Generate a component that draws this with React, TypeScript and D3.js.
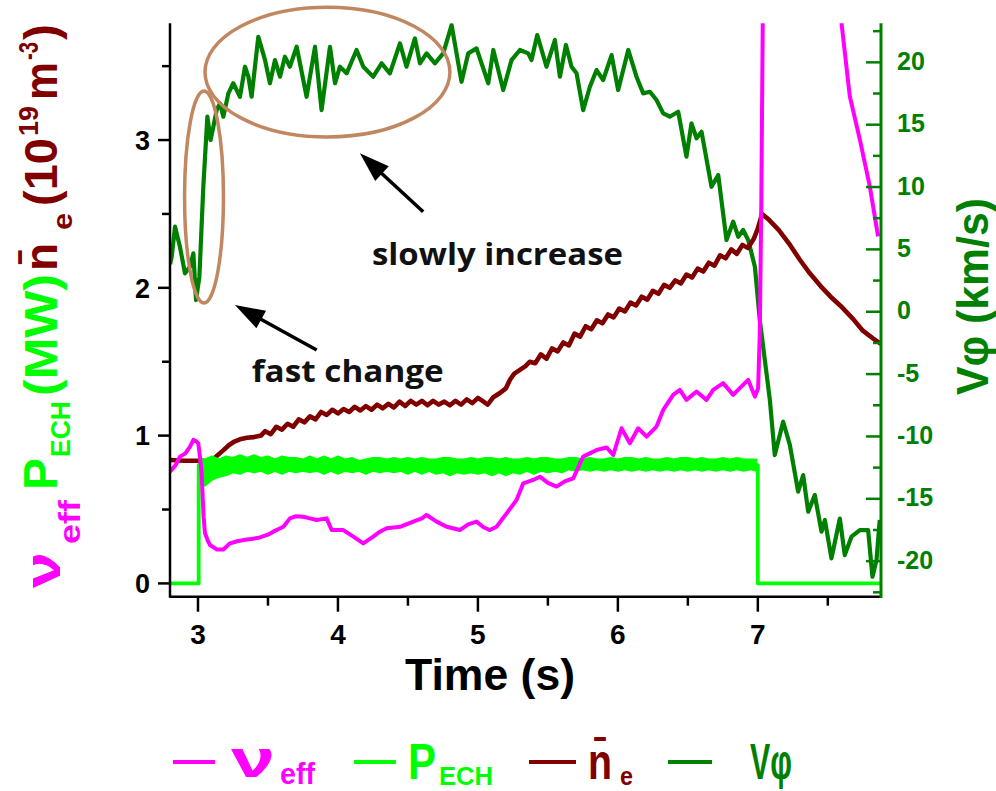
import React from "react";
import * as d3 from "d3";

// ---------- axis ticks ----------
const timeTicks = [3, 4, 5, 6, 7];
const timeMinorTicks = [3.5, 4.5, 5.5, 6.5, 7.5];
const leftTicks = [0, 1, 2, 3];
const leftMinorTicks = [0.5, 1.5, 2.5, 3.5];
const rightTicks = [-20, -15, -10, -5, 0, 5, 10, 15, 20];
const rightMinorTicks = [-22.5, -17.5, -12.5, -7.5, -2.5, 2.5, 7.5, 12.5, 17.5, 22.5];

// ---------- series (time s, value) ----------
// nu_eff (left axis)
const nuEff: [number, number | null][] = [
  [2.8, 0.756], [2.84, 0.8], [2.871, 0.858], [2.91, 0.88], [2.943, 0.925], [2.967, 0.971], [2.99, 0.96],
  [3.002, 0.948], [3.015, 0.85], [3.026, 0.745], [3.04, 0.45], [3.05, 0.339], [3.07, 0.29], [3.086, 0.26],
  [3.133, 0.23], [3.181, 0.23], [3.229, 0.271], [3.28, 0.285], [3.324, 0.293], [3.38, 0.3], [3.443, 0.311],
  [3.5, 0.33], [3.538, 0.35], [3.61, 0.383], [3.657, 0.44], [3.7, 0.455], [3.752, 0.451], [3.8, 0.44],
  [3.848, 0.429], [3.919, 0.44], [3.955, 0.361], [4.038, 0.361], [4.11, 0.316], [4.181, 0.271],
  [4.252, 0.316], [4.3, 0.35], [4.348, 0.373], [4.443, 0.383], [4.538, 0.418], [4.6, 0.44], [4.633, 0.463],
  [4.705, 0.418], [4.776, 0.383], [4.871, 0.361], [4.93, 0.4], [4.99, 0.418], [5.04, 0.38], [5.086, 0.361],
  [5.133, 0.383], [5.205, 0.474], [5.276, 0.564], [5.324, 0.677], [5.395, 0.7], [5.443, 0.722], [5.5, 0.68],
  [5.562, 0.655], [5.62, 0.69], [5.681, 0.711], [5.752, 0.858], [5.8, 0.88], [5.848, 0.903], [5.919, 0.92],
  [5.967, 0.869], [6.026, 1.05], [6.086, 0.948], [6.145, 1.05], [6.205, 0.993], [6.276, 1.061],
  [6.324, 1.174], [6.395, 1.276], [6.443, 1.31], [6.49, 1.242], [6.562, 1.298], [6.633, 1.242],
  [6.681, 1.31], [6.752, 1.355], [6.824, 1.276], [6.871, 1.321], [6.931, 1.377], [6.979, 1.264],
  [7.002, 1.32], [7.014, 1.69], [7.025, 2.6], [7.036, 3.9], [7.3, null],
  [7.59, 3.9], [7.598, 3.79], [7.657, 3.296], [7.729, 3.003], [7.8, 2.687], [7.859, 2.348],
];

// P_ECH (left axis): main level line
const pEch: [number, number][] = [
  [2.8, 0], [3.005, 0], [3.005, 0.8], [7.0, 0.8], [7.0, 0], [7.88, 0],
];
// P_ECH noise envelope (time, low, high)
const pEchBand: [number, number, number][] = [
  [3.01, 0.67, 0.85], [3.05, 0.66, 0.84], [3.1, 0.7, 0.86], [3.15, 0.72, 0.84], [3.2, 0.73, 0.86],
  [3.25, 0.75, 0.85], [3.3, 0.74, 0.87], [3.35, 0.76, 0.85], [3.4, 0.75, 0.87], [3.45, 0.76, 0.85],
  [3.5, 0.74, 0.86], [3.55, 0.76, 0.84], [3.6, 0.74, 0.86], [3.65, 0.76, 0.85], [3.7, 0.75, 0.85],
  [3.75, 0.76, 0.84], [3.8, 0.75, 0.86], [3.85, 0.76, 0.84], [3.9, 0.74, 0.86], [3.95, 0.76, 0.84],
  [4.0, 0.74, 0.86], [4.05, 0.76, 0.84], [4.1, 0.75, 0.85], [4.15, 0.76, 0.83], [4.2, 0.74, 0.84],
  [4.25, 0.76, 0.85], [4.3, 0.75, 0.85], [4.35, 0.76, 0.84], [4.4, 0.75, 0.85], [4.45, 0.76, 0.84],
  [4.5, 0.74, 0.85], [4.55, 0.76, 0.84], [4.6, 0.74, 0.85], [4.65, 0.76, 0.84], [4.7, 0.74, 0.84],
  [4.75, 0.75, 0.85], [4.8, 0.73, 0.85], [4.85, 0.75, 0.84], [4.9, 0.74, 0.84], [4.95, 0.75, 0.85],
  [5.0, 0.74, 0.84], [5.05, 0.75, 0.85], [5.1, 0.73, 0.85], [5.15, 0.75, 0.84], [5.2, 0.73, 0.85],
  [5.25, 0.75, 0.84], [5.3, 0.74, 0.84], [5.35, 0.76, 0.85], [5.4, 0.74, 0.84], [5.45, 0.76, 0.85],
  [5.5, 0.75, 0.85], [5.55, 0.76, 0.84], [5.6, 0.75, 0.84], [5.65, 0.77, 0.85], [5.7, 0.76, 0.85],
  [5.75, 0.77, 0.84], [5.8, 0.76, 0.85], [5.85, 0.77, 0.84], [5.9, 0.76, 0.84], [5.95, 0.77, 0.85],
  [6.0, 0.76, 0.84], [6.05, 0.77, 0.85], [6.1, 0.76, 0.85], [6.15, 0.77, 0.84], [6.2, 0.76, 0.85],
  [6.25, 0.77, 0.84], [6.3, 0.76, 0.84], [6.35, 0.77, 0.85], [6.4, 0.76, 0.84], [6.45, 0.77, 0.85],
  [6.5, 0.76, 0.85], [6.55, 0.77, 0.84], [6.6, 0.76, 0.85], [6.65, 0.77, 0.84], [6.7, 0.76, 0.84],
  [6.75, 0.77, 0.85], [6.8, 0.76, 0.84], [6.85, 0.77, 0.85], [6.9, 0.76, 0.84], [6.95, 0.77, 0.84],
  [6.99, 0.76, 0.84],
];

// line-averaged density n_e (left axis, 10^19 m^-3)
const neBar: [number, number][] = [
  [2.8, 0.835], [2.9, 0.83], [3.0, 0.83], [3.04, 0.82], [3.07, 0.81], [3.12, 0.85], [3.18, 0.9],
  [3.22, 0.935], [3.26, 0.96], [3.3, 0.975], [3.35, 0.985], [3.4, 0.99], [3.45, 1.0],
  [3.48, 1.03], [3.52, 1.01], [3.56, 1.06], [3.6, 1.04], [3.64, 1.08], [3.68, 1.06], [3.72, 1.11],
  [3.76, 1.09], [3.8, 1.13], [3.84, 1.11], [3.88, 1.16], [3.92, 1.14], [3.96, 1.175], [4.0, 1.15],
  [4.04, 1.18], [4.08, 1.16], [4.12, 1.195], [4.16, 1.17], [4.2, 1.2], [4.24, 1.175], [4.28, 1.21],
  [4.32, 1.185], [4.36, 1.215], [4.4, 1.19], [4.44, 1.23], [4.48, 1.2], [4.52, 1.235], [4.56, 1.21],
  [4.6, 1.235], [4.64, 1.205], [4.68, 1.235], [4.72, 1.21], [4.76, 1.23], [4.8, 1.205], [4.84, 1.235],
  [4.88, 1.21], [4.92, 1.245], [4.96, 1.22], [5.0, 1.255], [5.04, 1.23], [5.07, 1.21], [5.11, 1.26],
  [5.16, 1.29], [5.2, 1.32], [5.23, 1.38], [5.26, 1.42], [5.3, 1.445], [5.34, 1.47], [5.37, 1.5],
  [5.41, 1.49], [5.45, 1.55], [5.49, 1.52], [5.53, 1.59], [5.57, 1.57], [5.61, 1.63], [5.65, 1.61],
  [5.69, 1.69], [5.73, 1.67], [5.77, 1.74], [5.81, 1.72], [5.85, 1.78], [5.89, 1.76], [5.93, 1.82],
  [5.97, 1.8], [6.01, 1.86], [6.05, 1.84], [6.09, 1.9], [6.13, 1.88], [6.17, 1.94], [6.21, 1.92],
  [6.25, 1.98], [6.29, 1.96], [6.33, 2.02], [6.37, 2.0], [6.41, 2.05], [6.45, 2.03], [6.49, 2.09],
  [6.53, 2.07], [6.57, 2.13], [6.61, 2.11], [6.65, 2.17], [6.69, 2.15], [6.73, 2.22], [6.77, 2.2],
  [6.81, 2.26], [6.85, 2.23], [6.89, 2.29], [6.93, 2.27], [6.97, 2.33], [7.0, 2.4], [7.03, 2.5],
  [7.08, 2.46], [7.15, 2.39], [7.23, 2.29], [7.3, 2.19], [7.37, 2.1], [7.45, 2.01], [7.52, 1.94],
  [7.6, 1.87], [7.68, 1.79], [7.75, 1.71], [7.82, 1.66], [7.88, 1.62],
];

// toroidal rotation V_phi (right axis, km/s)
const vPhi: [number, number][] = [
  [2.8, 3.8], [2.812, 4.41], [2.836, 6.82], [2.871, 5.21], [2.907, 3.08], [2.943, 3.61], [2.967, 4.68],
  [2.986, 0.94], [3.01, 2.81], [3.038, 10.02], [3.067, 15.64], [3.09, 13.77], [3.11, 14.84],
  [3.133, 16.17], [3.157, 16.71], [3.181, 15.64], [3.217, 17.51], [3.252, 18.32], [3.3, 17.24],
  [3.336, 19.65], [3.36, 18.85], [3.383, 17.24], [3.431, 22.05], [3.479, 20.18], [3.514, 18.32],
  [3.55, 20.18], [3.586, 18.85], [3.621, 20.45], [3.657, 19.65], [3.705, 21.25], [3.776, 17.24],
  [3.836, 21.25], [3.883, 16.17], [3.943, 21.25], [3.979, 18.32], [4.014, 19.65], [4.062, 19.12],
  [4.133, 20.99], [4.181, 19.65], [4.252, 18.85], [4.312, 19.92], [4.371, 19.12], [4.443, 21.52],
  [4.49, 19.65], [4.55, 21.92], [4.586, 19.92], [4.633, 20.72], [4.693, 19.92], [4.752, 20.72],
  [4.812, 22.99], [4.883, 18.44], [4.931, 20.72], [4.99, 21.12], [5.074, 18.32], [5.11, 20.99],
  [5.181, 17.78], [5.24, 20.18], [5.3, 20.99], [5.36, 20.72], [5.383, 20.18], [5.424, 22.19],
  [5.49, 19.65], [5.55, 21.79], [5.586, 18.85], [5.629, 21.39], [5.669, 19.65], [5.705, 19.12],
  [5.752, 16.17], [5.8, 18.04], [5.848, 19.38], [5.895, 18.58], [5.955, 20.58], [6.002, 17.78],
  [6.074, 20.99], [6.133, 18.85], [6.181, 17.51], [6.229, 17.64], [6.276, 16.98], [6.324, 15.91],
  [6.371, 15.64], [6.431, 16.04], [6.49, 12.43], [6.526, 15.11], [6.562, 13.91], [6.598, 14.43],
  [6.669, 10.02], [6.717, 10.96], [6.776, 5.75], [6.824, 7.22], [6.86, 6.01], [6.895, 6.55],
  [6.931, 5.75], [6.979, 3.61], [7.014, -0.67], [7.026, -1.73], [7.086, -7.08], [7.121, -11.49],
  [7.181, -8.82], [7.229, -10.69], [7.288, -14.43], [7.324, -13.1], [7.36, -16.04], [7.407, -14.7],
  [7.455, -17.64], [7.479, -16.7], [7.526, -19.78], [7.586, -16.58], [7.621, -19.51], [7.669, -18.04],
  [7.729, -17.51], [7.788, -17.51], [7.819, -21.25], [7.848, -19.91], [7.871, -16.7],
];

// annotations, in (time, V_phi) coordinates
const ellipses = [
  { t: 3.043, v: 9.2, rt: 0.139, rv: 8.5 },
  { t: 3.925, v: 19.22, rt: 0.875, rv: 5.2 },
];
const arrows = [
  { t0: 4.609, v0: 8.02, t1: 4.157, v1: 12.7 },
  { t0: 3.848, v0: -3.07, t1: 3.264, v1: 0.54 },
];
const notes = [
  { text: "slowly increase", t: 4.243, v: 3.74, len: 251 },
  { text: "fast change", t: 3.384, v: -5.61, len: 192 },
];

const C_NU = "#ff00ff";
const C_PECH = "#00ff00";
const C_NE = "#800000";
const C_V = "#008000";
const C_ELL = "#c08761";
const AX_FONT = "'Liberation Sans', Arial, sans-serif";

export default function App() {
  const W = 996, H = 791;
  const L = 170, R = 881, T = 23.3, B = 596.7;
  const x = d3.scaleLinear().domain([2.8, 7.88]).range([L, R]);
  const yL = d3.scaleLinear().domain([-0.09, 3.79]).range([B, T]);
  const yR = d3.scaleLinear().domain([-22.85, 23.13]).range([B, T]);

  const lineL = d3.line<[number, number | null]>()
    .defined((d) => d[1] !== null)
    .x((d) => x(d[0]))
    .y((d) => yL(d[1] as number));
  const lineR = d3.line<[number, number]>().x((d) => x(d[0])).y((d) => yR(d[1]));
  const band = d3.area<[number, number, number]>()
    .x((d) => x(d[0]))
    .y0((d) => yL(d[1]))
    .y1((d) => yL(d[2]));

  const arrowEls = arrows.map((a, i) => {
    const x0 = x(a.t0), y0 = yR(a.v0), x1 = x(a.t1), y1 = yR(a.v1);
    const dx = x1 - x0, dy = y1 - y0;
    const len = Math.hypot(dx, dy);
    const ux = dx / len, uy = dy / len;
    const hl = 30, hw = 10;
    const bx = x1 - ux * hl, by = y1 - uy * hl;
    const pts = `${x1},${y1} ${bx - uy * hw},${by + ux * hw} ${bx + uy * hw},${by - ux * hw}`;
    return (
      <g key={"a" + i}>
        <line x1={x0} y1={y0} x2={bx + ux * 4} y2={by + uy * 4} stroke="#000" strokeWidth={3.5} />
        <polygon points={pts} fill="#000" />
      </g>
    );
  });

  const leftLabel = [
    { s: "\u03bd", c: C_NU, fs: 52, y0: 588, len: 36, bx: 60 },
    { s: "eff", c: C_NU, fs: 30, y0: 544, len: 44, bx: 80 },
    { s: "P", c: C_PECH, fs: 48, y0: 490, len: 32, bx: 57 },
    { s: "ECH", c: C_PECH, fs: 27, y0: 457, len: 56, bx: 70 },
    { s: "(MW)", c: C_PECH, fs: 46, y0: 396, len: 122, bx: 57 },
    { s: "n\u0304", c: C_NE, fs: 46, y0: 271, len: 28, bx: 57 },
    { s: "e", c: C_NE, fs: 28, y0: 230, len: 17, bx: 72 },
    { s: "(10", c: C_NE, fs: 46, y0: 206, len: 68, bx: 57 },
    { s: "19", c: C_NE, fs: 28, y0: 136, len: 30, bx: 38 },
    { s: "m", c: C_NE, fs: 46, y0: 100, len: 38, bx: 57 },
    { s: "-3", c: C_NE, fs: 28, y0: 60, len: 18, bx: 38 },
    { s: ")", c: C_NE, fs: 46, y0: 40, len: 16, bx: 57 },
  ];

  const legendLines = [
    { x0: 173, x1: 215, c: C_NU },
    { x0: 354, x1: 396, c: C_PECH },
    { x0: 529, x1: 576, c: C_NE },
    { x0: 668, x1: 712, c: C_V },
  ];
  const legendTexts = [
    { s: "\u03bd", c: C_NU, fs: 54, x: 231, y: 777, len: 44 },
    { s: "eff", c: C_NU, fs: 29, x: 280, y: 784, len: 35 },
    { s: "P", c: C_PECH, fs: 50, x: 408, y: 779, len: 28 },
    { s: "ECH", c: C_PECH, fs: 25, x: 439, y: 785, len: 54 },
    { s: "n\u0304", c: C_NE, fs: 50, x: 588, y: 779, len: 24 },
    { s: "e", c: C_NE, fs: 25, x: 620, y: 785, len: 13 },
    { s: "V\u03c6", c: C_V, fs: 50, x: 750, y: 779, len: 42 },
  ];

  return (
    <svg width={W} height={H} style={{ position: "absolute", left: 0, top: 0, background: "#fff" }}
      fontFamily={AX_FONT} fontWeight="bold">
      <defs>
        <clipPath id="plotClip">
          <rect x={L} y={T} width={R - L} height={B - T} />
        </clipPath>
      </defs>

      {/* curves */}
      <g clipPath="url(#plotClip)" fill="none" strokeLinejoin="round">
        <path d={lineR(vPhi) || ""} stroke={C_V} strokeWidth={4.2} />
        <path d={lineL(neBar) || ""} stroke={C_NE} strokeWidth={4.6} />
        <path d={band(pEchBand) || ""} fill={C_PECH} stroke={C_PECH} strokeWidth={1.5} />
        <path d={lineL(pEch) || ""} stroke={C_PECH} strokeWidth={3.8} />
        <path d={lineL(nuEff) || ""} stroke={C_NU} strokeWidth={4} />
      </g>

      {/* axes */}
      <line x1={L} y1={T} x2={L} y2={B + 1} stroke="#000" strokeWidth={2.5} />
      <line x1={L} y1={B} x2={R} y2={B} stroke="#000" strokeWidth={2.5} />
      <line x1={R} y1={T} x2={R} y2={B + 1.2} stroke={C_V} strokeWidth={3} />

      {leftTicks.map((v) => (
        <g key={"lt" + v}>
          <line x1={L - 12} x2={L} y1={yL(v)} y2={yL(v)} stroke="#000" strokeWidth={2.5} />
          <text x={150} y={yL(v)} dy="0.36em" textAnchor="end" fontSize={27}>{v}</text>
        </g>
      ))}
      {leftMinorTicks.map((v) => (
        <line key={"lm" + v} x1={L - 8} x2={L} y1={yL(v)} y2={yL(v)} stroke="#000" strokeWidth={2.5} />
      ))}

      {timeTicks.map((t) => (
        <g key={"tt" + t}>
          <line x1={x(t)} x2={x(t)} y1={B} y2={B + 15} stroke="#000" strokeWidth={2.5} />
          <text x={x(t)} y={644} textAnchor="middle" fontSize={28}>{t}</text>
        </g>
      ))}
      {timeMinorTicks.map((t) => (
        <line key={"tm" + t} x1={x(t)} x2={x(t)} y1={B} y2={B + 9} stroke="#000" strokeWidth={2.5} />
      ))}

      {rightTicks.map((v) => (
        <g key={"rt" + v}>
          <line x1={R - 15} x2={R} y1={yR(v)} y2={yR(v)} stroke={C_V} strokeWidth={2.5} />
          <text x={897} y={yR(v)} dy="0.3em" fontSize={25} fill={C_V}>{v}</text>
        </g>
      ))}
      {rightMinorTicks.map((v) => (
        <line key={"rm" + v} x1={R - 8} x2={R} y1={yR(v)} y2={yR(v)} stroke={C_V} strokeWidth={2.5} />
      ))}

      {/* axis titles */}
      <text x={490} y={690} textAnchor="middle" fontSize={44} textLength={170} lengthAdjust="spacingAndGlyphs">
        Time (s)
      </text>
      <text transform="translate(988,395) rotate(-90)" fontSize={44} fill={C_V}
        textLength={197} lengthAdjust="spacingAndGlyphs">
        V{"\u03c6"} (km/s)
      </text>
      {leftLabel.map((p, i) => (
        <text key={"ll" + i} transform={`translate(${p.bx},${p.y0}) rotate(-90)`} fontSize={p.fs} fill={p.c}
          textLength={p.len} lengthAdjust="spacingAndGlyphs">
          {p.s}
        </text>
      ))}

      {/* annotations */}
      {ellipses.map((e, i) => (
        <ellipse key={"e" + i} cx={x(e.t)} cy={yR(e.v)} rx={x(e.t + e.rt) - x(e.t)} ry={yR(e.v) - yR(e.v + e.rv)}
          fill="none" stroke={C_ELL} strokeWidth={3.5} />
      ))}
      {arrowEls}
      {notes.map((n, i) => (
        <text key={"n" + i} x={x(n.t)} y={yR(n.v)} fontFamily="'Open Sans', sans-serif" fontWeight="bold"
          fontSize={31} fill="#111" textLength={n.len} lengthAdjust="spacingAndGlyphs">
          {n.text}
        </text>
      ))}

      {/* legend */}
      {legendLines.map((l, i) => (
        <line key={"gl" + i} x1={l.x0} x2={l.x1} y1={762} y2={762} stroke={l.c} strokeWidth={4} />
      ))}
      {legendTexts.map((t, i) => (
        <text key={"gt" + i} x={t.x} y={t.y} fontSize={t.fs} fill={t.c} textLength={t.len}
          lengthAdjust="spacingAndGlyphs">
          {t.s}
        </text>
      ))}
    </svg>
  );
}
